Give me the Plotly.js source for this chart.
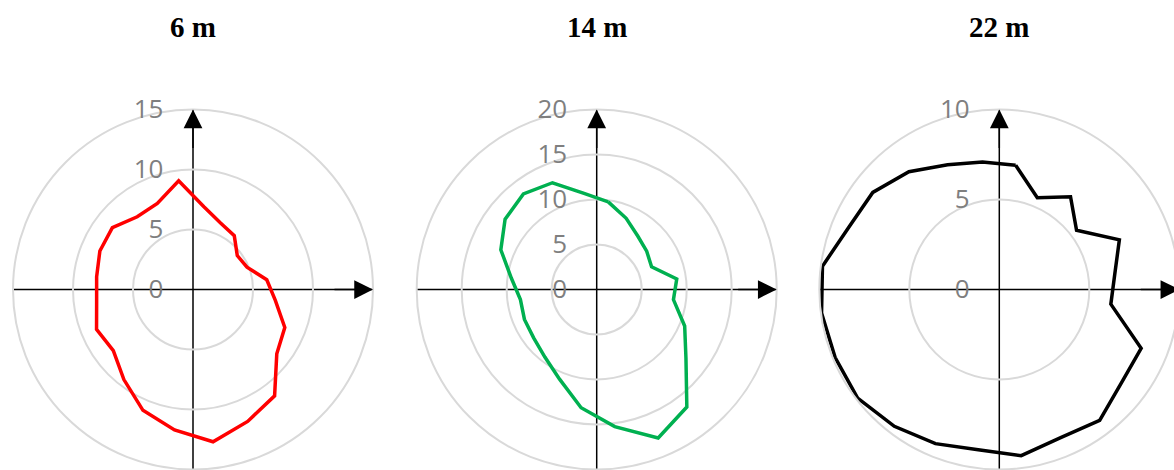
<!DOCTYPE html>
<html>
<head>
<meta charset="utf-8">
<script src="https://cdn.plot.ly/plotly-3.0.1.min.js"></script>
<style>
  html, body { margin: 0; padding: 0; background: #ffffff; overflow: hidden; width: 1174px; height: 470px; }
  #chart { width: 1190px; height: 470px; }
</style>
</head>
<body>
<div id="chart"></div>
<script>
// Directions (degrees, clockwise from north) of the radar categories
const directions = [7.5, 22.5, 37.5, 52.5, 67.5, 82.5, 97.5, 112.5, 127.5, 142.5, 157.5, 172.5,
                    187.5, 202.5, 217.5, 232.5, 247.5, 262.5, 277.5, 292.5, 307.5, 322.5, 337.5, 352.5];

// Values
const values6m  = [6.96, 6.0, 5.65, 4.65, 4.87, 6.2, 6.92, 8.28, 8.8, 11.17, 11.9, 12.8,
                   11.8, 10.9, 9.46, 8.37, 8.7, 8.1, 8.1, 8.4, 8.47, 7.64, 7.77, 9.14];
const values14m = [9.82, 8.56, 7.49, 7.0, 6.6, 8.97, 8.6, 10.58, 12.5, 16.45, 17.85, 15.37,
                   13.25, 10.78, 9.46, 8.83, 8.69, 8.55, 9.56, 11.53, 12.83, 13.38, 12.84, 10.78];
const values22m = [6.96, 5.52, 6.5, 5.41, 7.22, 6.47, 6.25, 8.53, 8.54, 9.16, 8.91, 9.31,
                   8.98, 9.27, 9.58, 9.92, 9.87, 9.96, 9.91, 9.05, 8.86, 8.25, 7.5, 7.15];

const panelTitles = ['6 m', '14 m', '22 m'];
const radialMax = [15, 20, 10];
const radialTicks = [[0, 5, 10, 15], [0, 5, 10, 15, 20], [0, 5, 10]];
const lineColors = ['#ff0000', '#00b050', '#000000'];
const seriesList = [values6m, values14m, values22m];

// Layout geometry (pixels)
const W = 1190, H = 470, R = 180;
const centersX = [193, 596.7, 999.3];
const centerY = 289.5; // from top

const traces = [];
const layout = {
  width: W, height: H,
  margin: {l: 0, r: 0, t: 0, b: 0, pad: 0},
  paper_bgcolor: '#ffffff',
  showlegend: false,
  annotations: []
};

for (let i = 0; i < 3; i++) {
  const key = i === 0 ? 'polar' : 'polar' + (i + 1);
  const cx = centersX[i];
  const xd = [(cx - R) / W, (cx + R) / W];
  const yd = [(H - centerY - R) / H, (H - centerY + R) / H];

  const rVals = seriesList[i].concat([seriesList[i][0]]);
  const tVals = directions.concat([directions[0]]);
  traces.push({
    type: 'scatterpolar',
    subplot: key,
    r: rVals,
    theta: tVals,
    mode: 'lines',
    line: {color: lineColors[i], width: 3.5},
    hoverinfo: 'skip'
  });

  layout[key] = {
    domain: {x: xd, y: yd},
    bgcolor: 'rgba(0,0,0,0)',
    radialaxis: {
      range: [0, radialMax[i]],
      tickvals: radialTicks[i],
      ticktext: radialTicks[i].map(String),
      angle: 90,
      side: 'counterclockwise',
      tickangle: 90,
      showline: false,
      showgrid: true,
      gridcolor: '#d9d9d9',
      gridwidth: 2,
      ticks: 'outside',
      ticklen: 20,
      tickcolor: 'rgba(0,0,0,0)',
      tickfont: {family: 'Open Sans, sans-serif', size: 26, color: '#7f7f7f'},
      layer: 'above traces'
    },
    angularaxis: {
      type: 'linear',
      thetaunit: 'degrees',
      rotation: 90,
      direction: 'clockwise',
      tickvals: [0, 90, 180, 270],
      showticklabels: false,
      ticks: '',
      showgrid: true,
      gridcolor: '#000000',
      gridwidth: 1.5,
      showline: true,
      linecolor: '#d9d9d9',
      linewidth: 2
    }
  };

  // Panel title
  layout.annotations.push({
    xref: 'paper', yref: 'paper',
    x: cx / W, y: 1 - 27 / H,
    xanchor: 'center', yanchor: 'middle',
    text: '<b>' + panelTitles[i] + '</b>',
    showarrow: false,
    font: {family: 'Liberation Serif, Times New Roman, serif', size: 29, color: '#000000'}
  });

  // Arrowheads on the axes
  layout.annotations.push({
    xref: 'paper', yref: 'paper',
    x: (cx + R) / W, y: (H - centerY) / H,
    ax: -40, ay: 0, axref: 'pixel', ayref: 'pixel',
    text: '', showarrow: true,
    arrowhead: 2, arrowsize: 2.5, arrowwidth: 1.5, arrowcolor: '#000000'
  });
  layout.annotations.push({
    xref: 'paper', yref: 'paper',
    x: cx / W, y: (H - centerY + R) / H,
    ax: 0, ay: 40, axref: 'pixel', ayref: 'pixel',
    text: '', showarrow: true,
    arrowhead: 2, arrowsize: 2.5, arrowwidth: 1.5, arrowcolor: '#000000'
  });
}

Plotly.newPlot('chart', traces, layout, {staticPlot: true, displayModeBar: false});
</script>
</body>
</html>
